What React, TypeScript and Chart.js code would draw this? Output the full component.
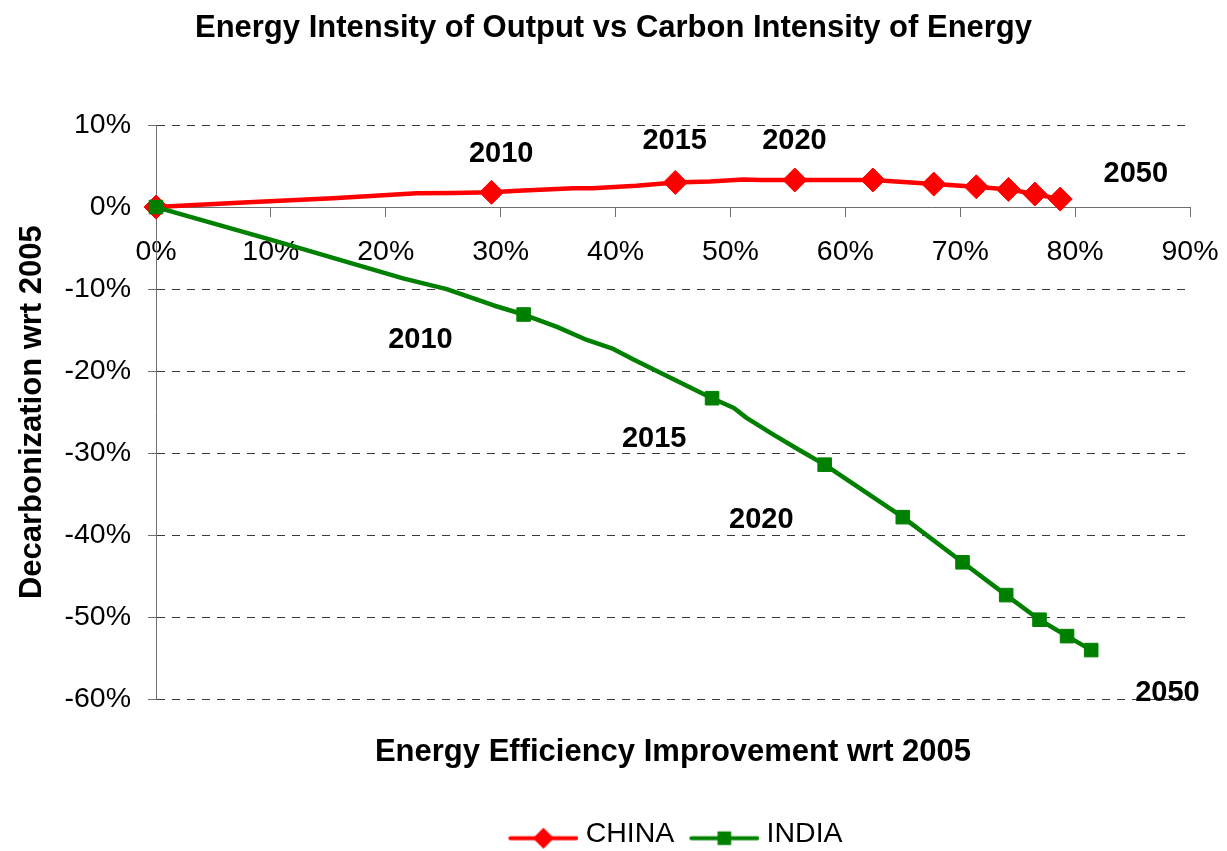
import { useEffect, useRef } from 'react';
import { Chart, registerables } from 'chart.js';

Chart.register(...registerables);

const FONT = '"Liberation Sans", Arial, Helvetica, sans-serif';

const chartTitle = 'Energy Intensity of Output vs Carbon Intensity of Energy';
const xAxisTitle = 'Energy Efficiency Improvement wrt 2005';
const yAxisTitle = 'Decarbonization wrt 2005';
const seriesNames = ['CHINA', 'INDIA'];

const years = [2005, 2006, 2007, 2008, 2009, 2010, 2011, 2012, 2013, 2014, 2015, 2016, 2017, 2018, 2019, 2020, 2025, 2030, 2035, 2040, 2045, 2050];

const chinaEfficiency = [0, 7.6, 15.4, 22.7, 25.9, 29.2, 31.5, 36.3, 38.0, 41.8, 45.2, 48.2, 51.1, 52.6, 54.1, 55.6, 62.4, 67.7, 71.4, 74.2, 76.5, 78.7];
const chinaDecarb = [0, 0.55, 1.06, 1.67, 1.7, 1.79, 2.0, 2.3, 2.3, 2.6, 3.0, 3.1, 3.35, 3.3, 3.3, 3.3, 3.3, 2.8, 2.47, 2.15, 1.58, 0.97];

const indiaEfficiency = [0, 10.8, 21.5, 25.3, 29.4, 32.0, 34.9, 37.5, 39.8, 41.6, 48.4, 50.3, 51.4, 53.7, 56.1, 58.2, 65.0, 70.2, 74.0, 76.9, 79.3, 81.4];
const indiaDecarb = [0, -4.3, -8.7, -10.0, -12.0, -13.1, -14.6, -16.2, -17.3, -18.6, -23.3, -24.5, -25.7, -27.7, -29.7, -31.4, -37.8, -43.3, -47.3, -50.3, -52.3, -54.0];

const annotationText = ['2010', '2015', '2020', '2050', '2010', '2015', '2020', '2050'];
const annotationX = [30.05, 45.15, 55.57, 85.28, 23.02, 43.36, 52.69, 88.04];
const annotationY = [6.49, 8.01, 8.01, 3.99, -16.25, -28.3, -38.09, -59.27];

const xMin = 0, xMax = 90, xStep = 10;
const yMin = -60, yMax = 10, yStep = 10;

const RED = '#FF0000';
const GREEN = '#008000';

function legendImage(color: string, style: 'diamond' | 'square') {
  const c = document.createElement('canvas');
  c.width = 82;
  c.height = 40;
  const g = c.getContext('2d')!;
  const cy = 24.5;
  g.strokeStyle = color;
  g.lineWidth = 4;
  g.lineCap = 'round';
  g.beginPath();
  g.moveTo(14, cy);
  g.lineTo(80, cy);
  g.stroke();
  g.fillStyle = color;
  const cx = 47;
  g.beginPath();
  if (style === 'diamond') {
    const r = 10.5;
    g.moveTo(cx - r, cy);
    g.lineTo(cx, cy - r);
    g.lineTo(cx + r, cy);
    g.lineTo(cx, cy + r);
    g.closePath();
  } else {
    const s = 6.8;
    g.rect(cx - s, cy - s, 2 * s, 2 * s);
  }
  g.fill();
  return c;
}

const yearLabelPlugin = {
  id: 'yearLabels',
  afterDatasetsDraw(chart: any) {
    const { ctx, scales } = chart;
    ctx.save();
    ctx.font = `bold 29px ${FONT}`;
    ctx.fillStyle = '#000';
    ctx.textAlign = 'center';
    ctx.textBaseline = 'middle';
    annotationText.forEach((t, i) => {
      ctx.fillText(t, scales.x.getPixelForValue(annotationX[i]), scales.y.getPixelForValue(annotationY[i]));
    });
    ctx.restore();
  },
};

export default function App() {
  const ref = useRef<HTMLCanvasElement>(null);

  useEffect(() => {
    const canvas = ref.current!;
    const isMarker = (ctx: any) => years[ctx.dataIndex] % 5 === 0;
    const chinaImg = legendImage(RED, 'diamond');
    const indiaImg = legendImage(GREEN, 'square');

    const chart = new Chart(canvas, {
      type: 'line',
      data: {
        datasets: [
          {
            label: seriesNames[0],
            data: chinaEfficiency.map((x, i) => ({ x, y: chinaDecarb[i] })),
            borderColor: RED,
            backgroundColor: RED,
            borderWidth: 4.5,
            borderJoinStyle: 'round',
            pointStyle: 'rectRot',
            pointRadius: (ctx: any) => (isMarker(ctx) ? 12 : 0),
            pointBorderWidth: 1,
            pointBorderColor: RED,
            pointBackgroundColor: RED,
            tension: 0,
            clip: false,
            order: 1,
          },
          {
            label: seriesNames[1],
            data: indiaEfficiency.map((x, i) => ({ x, y: indiaDecarb[i] })),
            borderColor: GREEN,
            backgroundColor: GREEN,
            borderWidth: 4.5,
            borderJoinStyle: 'round',
            pointStyle: 'rect',
            pointRadius: (ctx: any) => (isMarker(ctx) ? 9.6 : 0),
            pointBorderWidth: 1,
            pointBorderColor: GREEN,
            pointBackgroundColor: GREEN,
            tension: 0,
            clip: false,
            order: 0,
          },
        ],
      } as any,
      options: {
        responsive: false,
        animation: false,
        events: [],
        layout: { padding: { top: 0, left: 0, right: 0, bottom: -7 } },
        scales: {
          x: {
            type: 'linear',
            min: xMin,
            max: xMax,
            position: { y: 0 } as any,
            ticks: {
              stepSize: xStep,
              padding: 19,
              color: '#000',
              font: { family: FONT, size: 28.5 },
              maxRotation: 0,
              callback: (v: any) => `${v}%`,
            },
            grid: {
              display: true,
              drawOnChartArea: false,
              drawTicks: true,
              tickLength: 9,
              tickColor: '#6e6e6e',
            },
            border: { display: true, color: '#6e6e6e', width: 1 },
            afterFit: (s: any) => {
              s.paddingLeft = 0;
              s.paddingRight = 37;
            },
          },
          y: {
            type: 'linear',
            min: yMin,
            max: yMax,
            position: 'left',
            ticks: {
              stepSize: yStep,
              padding: 17,
              color: '#000',
              font: { family: FONT, size: 28.5 },
              callback: (v: any) => `${v}%`,
            },
            grid: {
              color: '#3a3a3a',
              lineWidth: 1,
              drawTicks: true,
              tickLength: 8,
              tickColor: '#6e6e6e',
              tickBorderDash: [],
            } as any,
            border: { display: true, color: '#6e6e6e', width: 1, dash: [8, 7] },
            title: {
              display: true,
              text: yAxisTitle,
              color: '#000',
              font: { family: FONT, size: 31, weight: 'bold' },
              padding: { top: 14, bottom: 0 },
            },
            afterFit: (s: any) => {
              s.width = 156;
              s.paddingTop = 0;
              s.paddingBottom = 0;
            },
          },
        },
        plugins: {
          title: {
            display: true,
            text: chartTitle,
            color: '#000',
            font: { family: FONT, size: 31, weight: 'bold' },
            padding: { top: 10, bottom: 77.8 },
            fullSize: true,
          },
          subtitle: {
            display: true,
            text: xAxisTitle,
            position: 'bottom',
            fullSize: false,
            color: '#000',
            font: { family: FONT, size: 31, weight: 'bold' },
            padding: { top: 35, bottom: 38 },
          },
          legend: {
            display: true,
            position: 'bottom',
            fullSize: false,
            weight: 2000,
            labels: {
              usePointStyle: true,
              pointStyleWidth: 68,
              padding: 10,
              color: '#000',
              font: { family: FONT, size: 28.5 },
              generateLabels: () => [
                { text: seriesNames[0], pointStyle: chinaImg, fillStyle: RED, strokeStyle: RED, lineWidth: 0, fontColor: '#000', datasetIndex: 0, hidden: false },
                { text: seriesNames[1], pointStyle: indiaImg, fillStyle: GREEN, strokeStyle: GREEN, lineWidth: 0, fontColor: '#000', datasetIndex: 1, hidden: false },
              ],
            },
          } as any,
          tooltip: { enabled: false },
        },
      } as any,
      plugins: [yearLabelPlugin],
    });
    return () => chart.destroy();
  }, []);

  return (
    <div style={{ position: 'fixed', left: 0, top: 0, width: 1227, height: 851, background: '#fff' }}>
      <canvas ref={ref} width={1227} height={851} style={{ display: 'block', width: 1227, height: 851 }} />
    </div>
  );
}
